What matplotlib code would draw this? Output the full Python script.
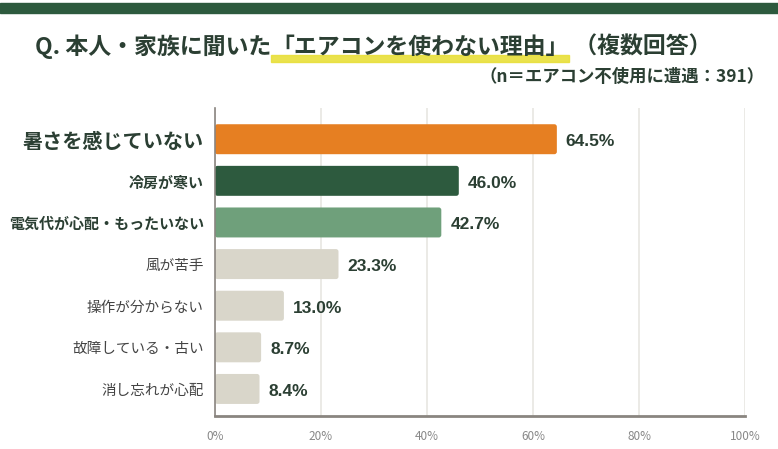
import matplotlib
matplotlib.use("Agg")
import matplotlib.pyplot as plt
from matplotlib.patches import Rectangle, FancyBboxPatch

plt.rcParams['font.family'] = ['Noto Sans CJK JP', 'DejaVu Sans']

reasons = ['暑さを感じていない', '冷房が寒い', '電気代が心配・もったいない', '風が苦手',
           '操作が分からない', '故障している・古い', '消し忘れが心配']
values = [64.5, 46.0, 42.7, 23.3, 13.0, 8.7, 8.4]
colors = ['#e67f22', '#2d5a3e', '#6fa07b', '#d9d6ca', '#d9d6ca', '#d9d6ca', '#d9d6ca']
ticks = [0, 20, 40, 60, 80, 100]

dark = '#2b3f33'
W, H = 778, 449

fig = plt.figure(figsize=(W / 100, H / 100), dpi=100)
fig.patches.append(Rectangle((0, 1 - 13 / H), 1, 10 / H, transform=fig.transFigure,
                             color='#2d5a3e', zorder=0))

ax_w, ax_h = 530, 308
ax = fig.add_axes([215 / W, 1 - 416 / H, ax_w / W, ax_h / H])
y = list(range(len(reasons)))
bars = ax.barh(y, values, height=0.72, color=colors, zorder=3)
ax.set_ylim(len(reasons) - 0.35, -0.75)
ax.set_xlim(0, 100)

# rounded corners
px_x = ax_w / 100
px_y = ax_h / (len(reasons) + 0.4)
for b in bars:
    x0, y0 = b.get_xy()
    fb = FancyBboxPatch((x0, y0), b.get_width(), b.get_height(),
                        boxstyle='round,pad=0,rounding_size=%f' % (2.5 / px_x),
                        mutation_aspect=px_x / px_y,
                        facecolor=b.get_facecolor(), edgecolor='none', zorder=3)
    b.remove()
    ax.add_patch(fb)

ax.set_xticks(ticks)
ax.set_xticklabels([f'{t}%' for t in ticks], color='#888888', fontsize=8.5)
ax.tick_params(axis='x', length=0, pad=10)
ax.tick_params(axis='y', length=0, pad=8)
ax.grid(axis='x', color='#e8e6e2', linewidth=1.2, zorder=0)
for s in ['top', 'right']:
    ax.spines[s].set_visible(False)
ax.spines['left'].set_color('#8a8580')
ax.spines['left'].set_linewidth(1.2)
ax.spines['bottom'].set_color('#8a8580')
ax.spines['bottom'].set_linewidth(2)
ax.spines['left'].set_zorder(4)

ax.set_yticks(y)
ax.set_yticklabels(reasons)
for i, lab in enumerate(ax.get_yticklabels()):
    if i == 0:
        lab.set_fontsize(14.5)
        lab.set_fontweight('bold')
        lab.set_color(dark)
    elif i < 3:
        lab.set_fontsize(10.8)
        lab.set_fontweight('bold')
        lab.set_color(dark)
    else:
        lab.set_fontsize(10.5)
        lab.set_color('#444444')

for i, v in enumerate(values):
    ax.text(v + 1.7, i + 0.06, f'{v:.1f}%', va='center', ha='left', fontsize=12.5,
            fontweight='bold', color=dark, family=['Liberation Sans', 'DejaVu Sans'])

# title, in pieces so the highlight sits under the quoted part
renderer = fig.canvas.get_renderer()
ty = 1 - 47 / H
parts = ['Q. 本人・家族に聞いた', '「エアコンを使わない理由」', ' （複数回答）']
x = 35 / W
for k, p in enumerate(parts):
    t = fig.text(x, ty, p, fontsize=16.5, fontweight='bold', color=dark,
                 va='center', ha='left', zorder=2)
    bb = t.get_window_extent(renderer)
    if k == 1:
        fig.patches.append(Rectangle((bb.x0 / W, 1 - 62 / H), bb.width / W, 7 / H,
                                     transform=fig.transFigure, color='#e8df3a',
                                     alpha=0.9, zorder=1))
    x = bb.x1 / W

fig.text(765 / W, 1 - 77 / H, '（n＝エアコン不使用に遭遇：391）',
         fontsize=12.5, fontweight='bold', color=dark, va='center', ha='right')

fig.savefig('out.png', dpi=100, facecolor='white')
